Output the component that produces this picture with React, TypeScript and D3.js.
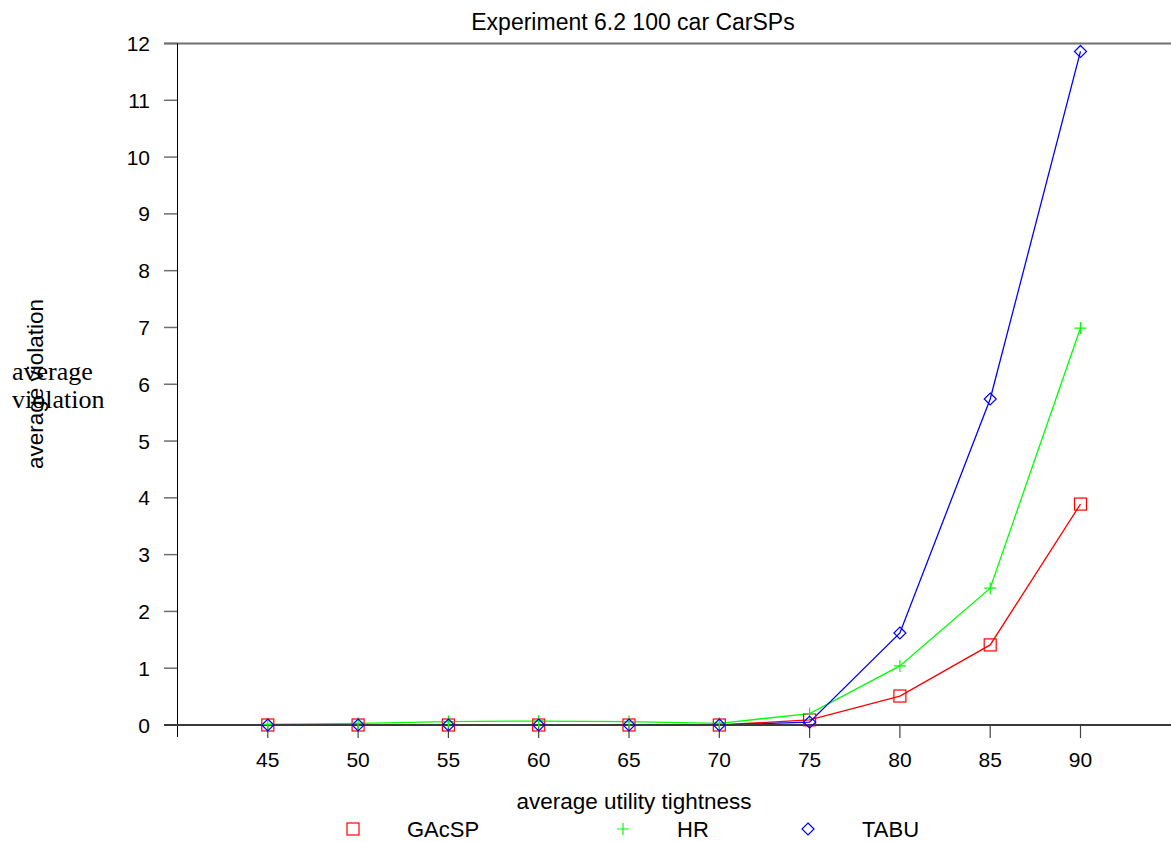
import React from "react";
import * as d3 from "d3";

const xValues = [45, 50, 55, 60, 65, 70, 75, 80, 85, 90];
const gacsp = [0, 0, 0, 0, 0, 0, 0.09, 0.51, 1.41, 3.89];
const hr = [0.01, 0.03, 0.06, 0.07, 0.06, 0.03, 0.2, 1.04, 2.41, 6.99];
const tabu = [0, 0, 0, 0, 0, 0, 0.05, 1.62, 5.74, 11.86];
const yTicks = [0, 1, 2, 3, 4, 5, 6, 7, 8, 9, 10, 11, 12];
const xTicks = [45, 50, 55, 60, 65, 70, 75, 80, 85, 90];
const seriesNames = ["GAcSP", "HR", "TABU"];
const seriesColors = ["#ff0000", "#00ff00", "#0000ff"];

const W = 1171;
const H = 842;
const FONT = "Liberation Sans, Arial, sans-serif";
const SERIF = "Liberation Serif, Times New Roman, serif";

const x = d3.scaleLinear().domain([40, 90]).range([177.5, 1080.5]);
const y = d3.scaleLinear().domain([0, 12]).range([725, 43.5]);

function Marker({ kind, cx, cy, color }: { kind: number; cx: number; cy: number; color: string }) {
  if (kind === 0) {
    return <rect x={cx - 6} y={cy - 6} width={12} height={12} fill="none" stroke={color} strokeWidth={1.2} />;
  }
  if (kind === 1) {
    return (
      <path d={`M${cx - 6},${cy}H${cx + 6}M${cx},${cy - 6}V${cy + 6}`} stroke={color} strokeWidth={1.2} fill="none" />
    );
  }
  return (
    <path d={`M${cx},${cy - 6}L${cx + 6},${cy}L${cx},${cy + 6}L${cx - 6},${cy}Z`} stroke={color} strokeWidth={1.2} fill="none" />
  );
}

export default function App() {
  const series = [gacsp, hr, tabu];
  const line = d3
    .line<number>()
    .x((_, i) => x(xValues[i]))
    .y((d) => y(d));
  const legendX = [353, 623, 808];
  const legendTextX = [407, 677, 862];
  return (
    <svg
      width={W}
      height={H}
      style={{ position: "absolute", left: 0, top: 0, background: "#fff" }}
      fontFamily={FONT}
    >
      <rect x={0} y={0} width={W} height={H} fill="#fff" />
      <text x={633} y={30} textAnchor="middle" fontSize={23} fill="#000">
        Experiment 6.2 100 car CarSPs
      </text>
      {/* top frame line */}
      <line x1={164} x2={W} y1={43.5} y2={43.5} stroke="#6e6e6e" strokeWidth={2} />
      {/* y ticks */}
      {yTicks.map((t) => (
        <g key={t}>
          <line x1={164} x2={177.5} y1={y(t)} y2={y(t)} stroke="#6e6e6e" strokeWidth={1.5} />
          <text x={150} y={y(t) + 7.5} textAnchor="end" fontSize={21} fill="#000">
            {t}
          </text>
        </g>
      ))}
      {/* x ticks */}
      {xTicks.map((t) => (
        <g key={t}>
          <line x1={x(t)} x2={x(t)} y1={725} y2={738} stroke="#444" strokeWidth={1.2} />
          <text x={x(t)} y={767} textAnchor="middle" fontSize={21} fill="#000">
            {t}
          </text>
        </g>
      ))}
      {/* y axis */}
      <line x1={177.5} x2={177.5} y1={43.5} y2={737} stroke="#000" strokeWidth={1} />
      {/* series lines */}
      {series.map((s, k) => (
        <path key={k} d={line(s) || ""} fill="none" stroke={seriesColors[k]} strokeWidth={1.3} />
      ))}
      {/* x axis */}
      <line x1={164} x2={W} y1={725} y2={725} stroke="#3a3a3a" strokeWidth={2} />
      {/* markers */}
      {series.map((s, k) =>
        s.map((v, i) => <Marker key={`${k}-${i}`} kind={k} cx={x(xValues[i])} cy={y(v)} color={seriesColors[k]} />)
      )}
      <text x={634} y={809} textAnchor="middle" fontSize={22.5} fill="#000">
        average utility tightness
      </text>
      <text transform={`translate(43,384) rotate(-90)`} textAnchor="middle" fontSize={22.5} fill="#000">
        average violation
      </text>
      <text x={12} y={380} fontSize={26} fontFamily={SERIF} fill="#000">
        average
      </text>
      <text x={12} y={408} fontSize={26} fontFamily={SERIF} fill="#000">
        violation
      </text>
      {/* legend */}
      {seriesNames.map((n, k) => (
        <g key={n}>
          <Marker kind={k} cx={legendX[k]} cy={829} color={seriesColors[k]} />
          <text x={legendTextX[k]} y={837} fontSize={22} fill="#000">
            {n}
          </text>
        </g>
      ))}
    </svg>
  );
}
